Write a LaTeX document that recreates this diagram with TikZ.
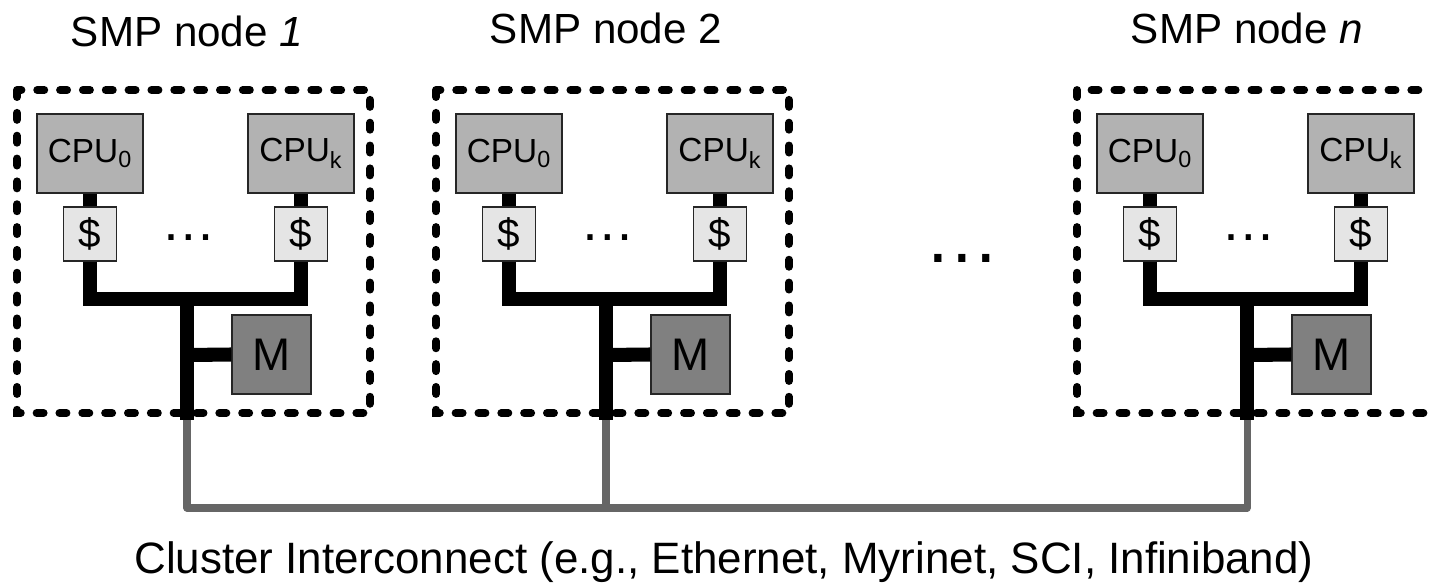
\documentclass[tikz,border=0pt]{standalone}
\usepackage{fontspec}
\setmainfont{Liberation Sans}
\definecolor{cpugray}{gray}{0.70}
\definecolor{cachegray}{gray}{0.90}
\definecolor{memgray}{gray}{0.50}
\definecolor{netgray}{gray}{0.40}
\begin{document}
\begin{tikzpicture}[x=0.02cm,y=-0.02cm,
  cpubox/.style={draw=black!85,line width=0.8pt,fill=cpugray,minimum width=2.12cm,minimum height=1.58cm,inner sep=0pt,font=\fontsize{19}{22}\selectfont},
  cachebox/.style={draw=black!85,line width=0.8pt,fill=cachegray,minimum width=1.06cm,minimum height=1.08cm,inner sep=0pt,font=\fontsize{23}{26}\selectfont},
  membox/.style={draw=black!85,line width=0.8pt,fill=memgray,minimum width=1.58cm,minimum height=1.58cm,inner sep=0pt,font=\fontsize{26}{29}\selectfont},
  busline/.style={line width=8pt,black,line join=miter,line cap=butt},
  netline/.style={line width=4pt,netgray,line join=round},
  dashbox/.style={line width=4.5pt,dash pattern=on 4pt off 9pt,line cap=round},
  titletext/.style={anchor=base,inner sep=0pt,font=\fontsize{24}{28}\selectfont},
  dotstext/.style={anchor=base,inner sep=0pt},
]
\clip (0,0) rectangle (1429,582);
\newcommand\smpnode[5]{%
  \begin{scope}[xshift=#1*0.02cm]
    \draw[dashbox] (17,90) rectangle (#5,413);
    \node[titletext] (title#2) at (187,#4) {SMP node #3};
    \node[cpubox] (cpuA#2) at (90,153.5) {CPU\textsubscript{0}};
    \node[cpubox] (cpuB#2) at (301,153.5) {CPU\textsubscript{k}};
    \node[cachebox] (cacheA#2) at (90,234) {\$};
    \node[cachebox] (cacheB#2) at (301,234) {\$};
    \node[membox] (mem#2) at (271.5,354.5) {M};
    \node[dotstext,font=\fontsize{31}{34}\selectfont] (dots#2) at (189,240) {…};
    \coordinate (busj#2) at (187,299);
    \coordinate (memj#2) at (187,355);
    \coordinate (trunk#2) at (187,420);
    \coordinate (netj#2) at (187,508);
    \draw[busline] (cpuA#2.south) -- (cacheA#2.north);
    \draw[busline] (cpuB#2.south) -- (cacheB#2.north);
    \draw[busline] (cacheA#2.south) |- (busj#2) -| (cacheB#2.south);
    \draw[busline] (busj#2) -- (trunk#2);
    \draw[busline] (memj#2) -- (mem#2.west);
  \end{scope}}
\smpnode{0}{a}{\textit{1}}{46}{370}
\smpnode{419}{b}{2}{43}{370}
\smpnode{1060}{n}{\textit{n}}{43}{390}
\node[dotstext,font=\fontsize{43}{46}\selectfont] (middots) at (962,262) {…};
\draw[netline] (trunka) -- (netja) -- (netjn) -- (trunkn);
\draw[netline] (trunkb) -- (netjb);
\node[titletext,font=\fontsize{25}{29}\selectfont] (caption) at (724,573) {Cluster Interconnect (e.g., Ethernet, Myrinet, SCI, Infiniband)};
\end{tikzpicture}
\end{document}
